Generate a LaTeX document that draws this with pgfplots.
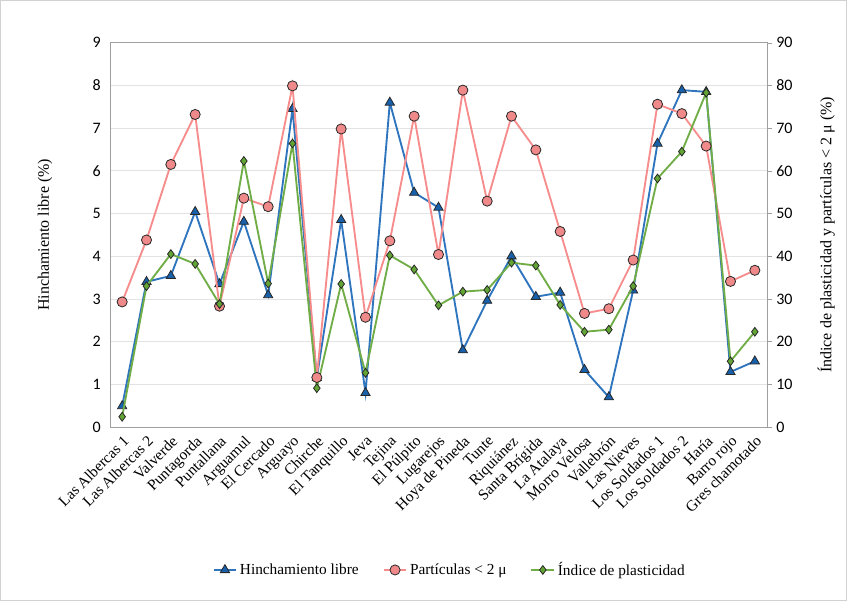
\documentclass[border=0pt]{standalone}
\usepackage{fontspec}
\setmainfont{Liberation Serif}
\newfontfamily\calibri{Carlito}
\usepackage{pgfplots}
\pgfplotsset{compat=1.18}
\definecolor{bline}{RGB}{46,117,190}
\definecolor{bfill}{RGB}{24,96,170}
\definecolor{rline}{RGB}{246,140,140}
\definecolor{rfill}{RGB}{240,138,138}
\definecolor{gline}{RGB}{112,173,71}
\definecolor{gfill}{RGB}{98,165,52}
\definecolor{mk}{RGB}{40,40,40}

\pgfplotstableread{
x hl pa ip
0 0.49 29.3 2.4
1 3.40 43.8 33.0
2 3.54 61.5 40.5
3 5.04 73.2 38.2
4 3.35 28.3 28.8
5 4.81 53.6 62.3
6 3.09 51.6 33.6
7 7.45 79.9 66.4
8 1.15 11.6 9.1
9 4.85 69.8 33.5
10 0.80 25.7 12.7
11 7.60 43.6 40.2
12 5.49 72.8 36.9
13 5.14 40.4 28.5
14 1.80 78.9 31.7
15 2.96 52.9 32.1
16 4.00 72.8 38.5
17 3.05 64.9 37.8
18 3.15 45.8 28.6
19 1.34 26.6 22.3
20 0.70 27.7 22.8
21 3.20 39.1 33.0
22 6.64 75.6 58.2
23 7.89 73.4 64.5
24 7.85 65.8 78.3
25 1.29 34.1 15.4
26 1.54 36.7 22.3
}\datatable

\begin{document}
\begin{tikzpicture}
\path[use as bounding box] (0,0) rectangle (635.25pt,450.75pt);
\draw[gray!35, line width=0.6pt] (0.3pt,0.3pt) rectangle (634.95pt,450.45pt);
\pgfplotsset{
  every axis/.append style={
    at={(82.5pt,130.5pt)}, anchor=south west,
    scale only axis, width=492.75pt, height=288.2pt,
    xmin=-0.5, xmax=26.5,
    /pgf/number format/assume math mode=true,
    yticklabel style={font=\calibri\fontsize{12}{14}\selectfont},
    ylabel style={font=\fontsize{12}{14}\selectfont},
    tick align=outside, major tick length=3.5pt,
    axis line style={gray!75}, tick style={gray!75},
  },
}
\begin{axis}[
  ymin=0, ymax=9, ytick={0,1,...,9},
  ytick pos=left,
  major y tick style={draw=none},
  xtick={0,...,26},
  xticklabels={Las Albercas 1,Las Albercas 2,Valverde,Puntagorda,Puntallana,Arguamul,El Cercado,Arguayo,Chirche,El Tanquillo,Jeva,Tejina,El Púlpito,Lugarejos,Hoya de Pineda,Tunte,Riquiánez,Santa Brígida,La Atalaya,Morro Velosa,Vallebrón,Las Nieves,Los Soldados 1,Los Soldados 2,Haría,Barro rojo,Gres chamotado},
  x tick label style={rotate=45, anchor=north east, font=\fontsize{11.5}{13}\selectfont, inner sep=1.5pt},
  major x tick style={draw=none},
  ymajorgrids, grid style={gray!22, line width=0.6pt},
  ylabel={Hinchamiento libre (\%)},
  ylabel style={at={(axis description cs:-0.099,0.5)}, anchor=center},
]
\addplot[bline, line width=1.4pt, mark=triangle*, mark size=4pt,
  mark options={fill=bfill, draw=mk, line width=0.6pt, solid}] table[x=x,y=hl]{\datatable};
\end{axis}
\begin{axis}[
  ymin=0, ymax=90, ytick={0,10,...,90},
  axis y line*=right, axis x line=none,
  ylabel={Índice de plasticidad y partículas < 2 μ (\%)},
  ylabel style={at={(axis description cs:1.09,0.5)}, anchor=center, rotate=0},
  legend style={at={(0.5175,-0.372)}, anchor=center, draw=none, fill=none,
    font=\fontsize{11.5}{13}\selectfont, legend columns=3,
    /tikz/every even column/.append style={column sep=16pt},
    legend cell align=left},
  legend image code/.code={\draw[mark repeat=2,mark phase=2] plot coordinates {(0cm,0cm)(0.3cm,0cm)(0.6cm,0cm)};},
]
\addlegendimage{bline, line width=1.4pt, mark=triangle*, mark size=4pt,
  mark options={fill=bfill, draw=mk, line width=0.6pt, solid}}
\addlegendentry{Hinchamiento libre}
\addplot[rline, line width=1.4pt, mark=*, mark size=3.8pt,
  mark options={fill=rfill, draw=mk, line width=0.6pt, solid}] table[x=x,y=pa]{\datatable};
\addlegendentry{Partículas < 2 μ}
\addplot[gline, line width=1.4pt, mark=diamond*, mark size=3.3pt,
  mark options={fill=gfill, draw=mk, line width=0.6pt, solid}] table[x=x,y=ip]{\datatable};
\addlegendentry{Índice de plasticidad}
\end{axis}
\end{tikzpicture}
\end{document}
